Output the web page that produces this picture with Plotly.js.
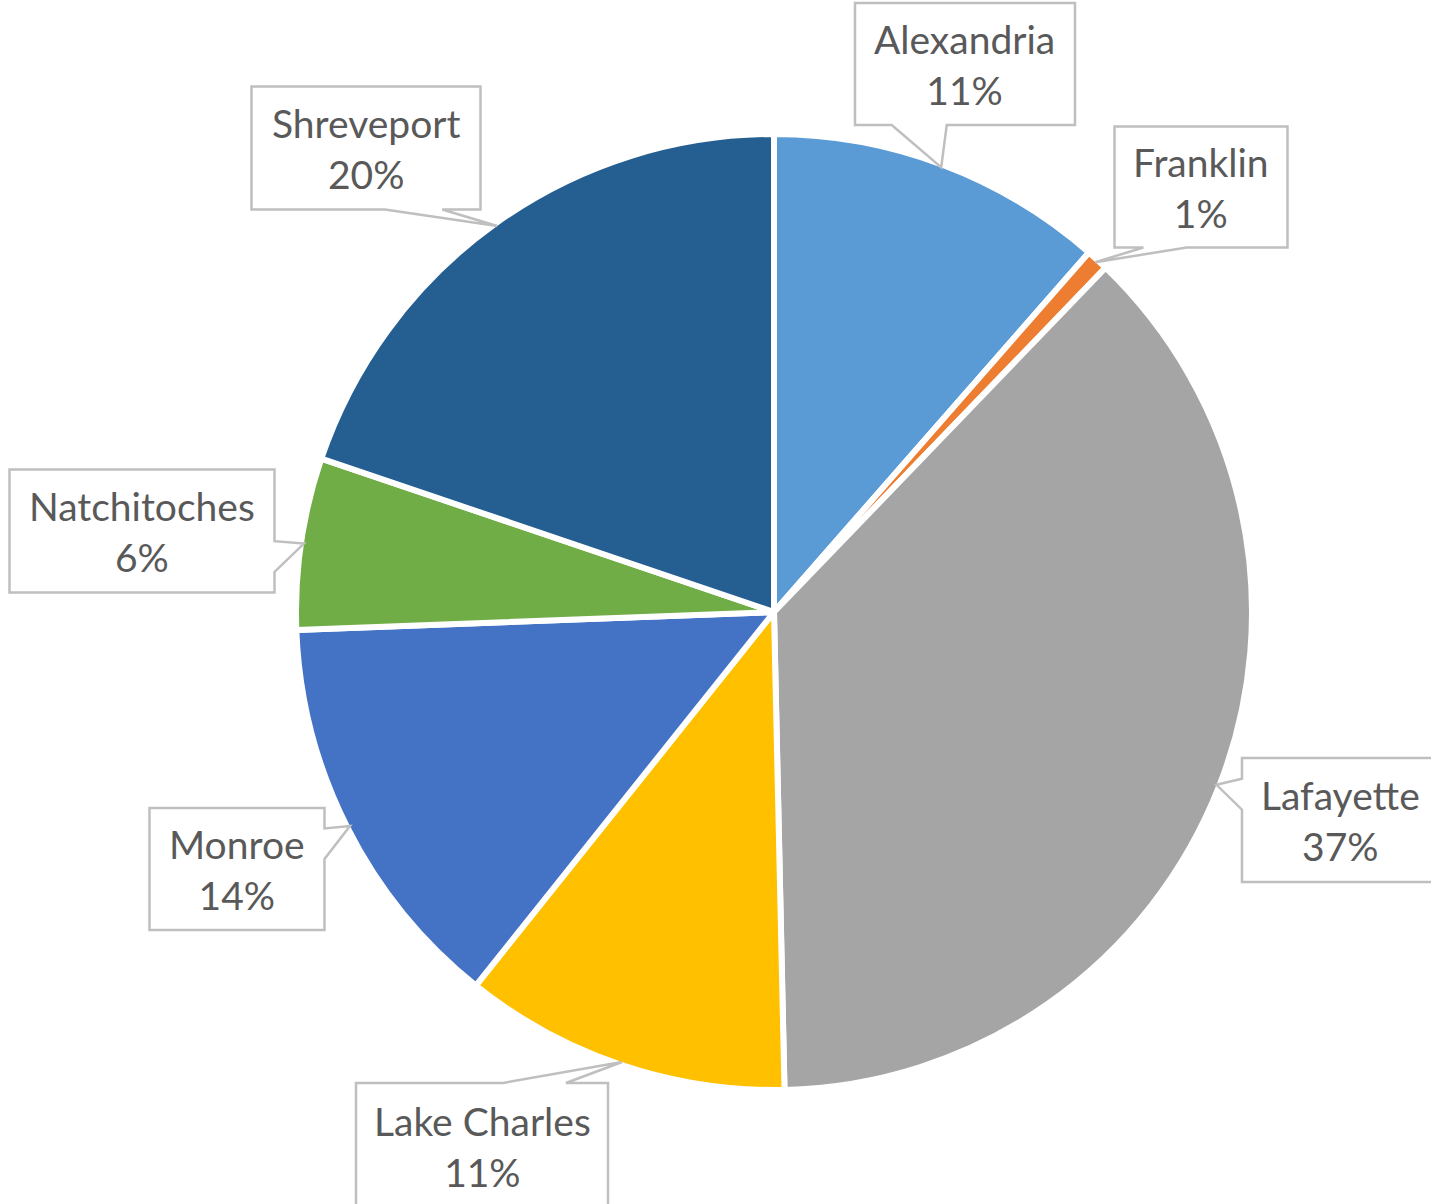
<!DOCTYPE html>
<html>
<head>
<meta charset="utf-8">
<script src="https://cdn.plot.ly/plotly-3.0.1.min.js"></script>
<style>html,body{margin:0;padding:0;background:#fff;}#chart{width:1431px;height:1204px;}</style>
</head>
<body>
<div id="chart"></div>
<script>
// ---- data ----
const cities = ['Alexandria', 'Franklin', 'Lafayette', 'Lake Charles', 'Monroe', 'Natchitoches', 'Shreveport'];
const shares = [11.45, 0.75, 37.45, 11.07, 13.68, 5.8, 19.8];
const colors = ['#5B9BD5', '#ED7D31', '#A5A5A5', '#FFC000', '#4472C4', '#70AD47', '#255E91'];

// ---- layout constants (pixels) ----
const W = 1431, H = 1204;
const CX = 774, CY = 612, R = 478;   // pie centre & radius
const RV = 475;                        // visible rim radius for callout tips
// callout boxes: centre x, centre y, width, height
const boxes = [
  [965, 64, 220, 122],
  [1201, 187, 173, 121],
  [1340, 820, 196, 124],
  [482, 1146, 252, 126],
  [237, 869, 175, 122],
  [142, 531, 265, 123],
  [366, 148, 229, 123]
];

const px = x => (x / W).toFixed(5);
const py = y => (1 - y / H).toFixed(5);

const total = shares.reduce((a, b) => a + b, 0);
const annotations = [];
const shapes = [];
let cum = 0;
shares.forEach((v, i) => {
  const mid = (cum + v / 2) / total * 2 * Math.PI;
  cum += v;
  const tx = CX + RV * Math.sin(mid);
  const ty = CY - RV * Math.cos(mid);
  const [bx, by, bw, bh] = boxes[i];
  const L = bx - bw / 2, Rr = bx + bw / 2, T = by - bh / 2, B = by + bh / 2;

  // callout outline: rectangle with a wedge pointing at the slice
  let pts = [];
  if (ty > B) {            // bottom side
    const f = tx > bx ? [0.833, 0.583] : [0.417, 0.167];
    pts = [[L, T], [Rr, T], [Rr, B], [L + f[0] * bw, B], [tx, ty], [L + f[1] * bw, B], [L, B]];
  } else if (ty < T) {     // top side
    const f = tx > bx ? [0.583, 0.833] : [0.167, 0.417];
    pts = [[L, T], [L + f[0] * bw, T], [tx, ty], [L + f[1] * bw, T], [Rr, T], [Rr, B], [L, B]];
  } else if (tx > Rr) {    // right side
    const f = ty > by ? [0.583, 0.833] : [0.167, 0.417];
    pts = [[L, T], [Rr, T], [Rr, T + f[0] * bh], [tx, ty], [Rr, T + f[1] * bh], [Rr, B], [L, B]];
  } else {                 // left side
    const f = ty > by ? [0.833, 0.583] : [0.417, 0.167];
    pts = [[L, T], [Rr, T], [Rr, B], [L, B], [L, T + f[0] * bh], [tx, ty], [L, T + f[1] * bh]];
  }
  const path = 'M' + pts.map(p => px(p[0]) + ',' + py(p[1])).join(' L') + ' Z';
  shapes.push({
    type: 'path', xref: 'paper', yref: 'paper', path: path,
    fillcolor: '#FFFFFF', line: {color: '#BFBFBF', width: 2.5}, layer: 'above'
  });

  annotations.push({
    xref: 'paper', yref: 'paper',
    x: bx / W, y: 1 - by / H, xanchor: 'center', yanchor: 'middle',
    text: cities[i] + '<br>' + Math.round(v / total * 100) + '%',
    showarrow: false, align: 'center',
    font: {family: 'Lato, "Open Sans", sans-serif', size: 39, color: '#595959'}
  });
});

const trace = {
  type: 'pie',
  labels: cities,
  values: shares,
  sort: false,
  direction: 'clockwise',
  rotation: 0,
  textinfo: 'none',
  hoverinfo: 'label+percent',
  marker: {colors: colors, line: {color: '#FFFFFF', width: 6}},
  domain: {x: [(CX - R) / W, (CX + R) / W], y: [1 - (CY + R) / H, 1 - (CY - R) / H]},
  showlegend: false
};

const layout = {
  width: W, height: H,
  margin: {l: 0, r: 0, t: 0, b: 0},
  paper_bgcolor: '#FFFFFF',
  showlegend: false,
  shapes: shapes,
  annotations: annotations
};

Plotly.newPlot('chart', [trace], layout, {displayModeBar: false, staticPlot: true});
</script>
</body>
</html>
